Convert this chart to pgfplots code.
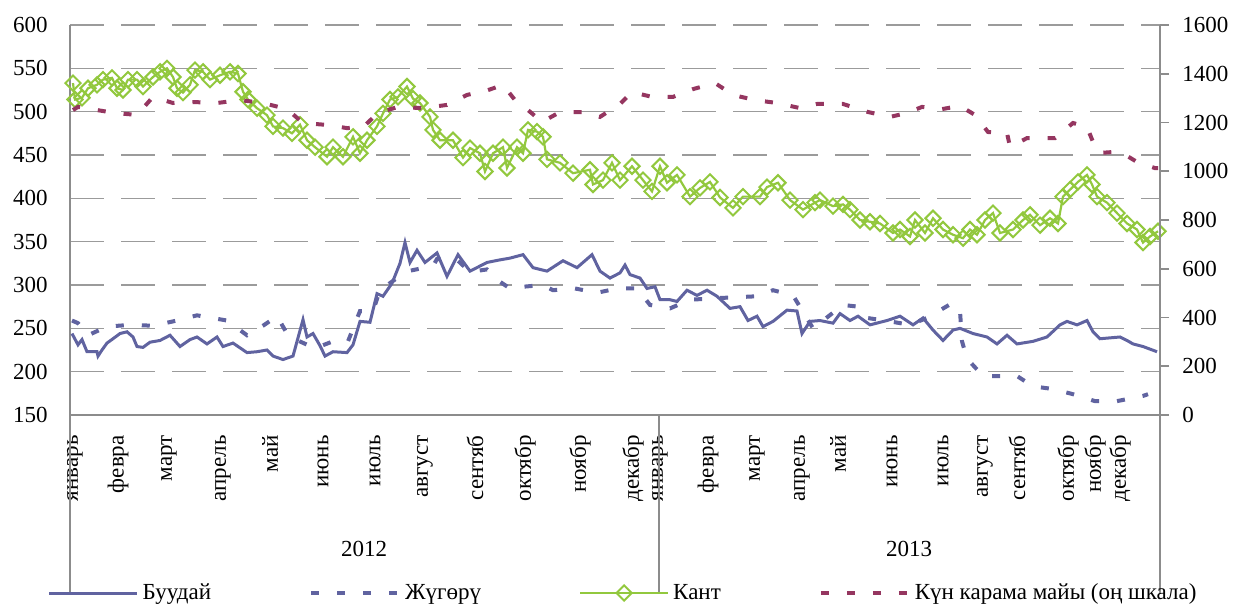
\documentclass[border=0pt]{standalone}
\usepackage{pgfplots}
\pgfplotsset{compat=1.18}
\usepackage{fontspec}
\setmainfont{Liberation Serif}
\definecolor{wheatc}{RGB}{96,99,160}
\definecolor{sugarc}{RGB}{146,200,62}
\definecolor{oilc}{RGB}{149,54,96}
\definecolor{gridc}{RGB}{155,155,155}
\definecolor{axc}{RGB}{140,140,140}
\newcommand{\chartfont}{\fontsize{11.5bp}{13.5bp}\selectfont}
\pgfplotsset{
  common/.style={
    at={(35bp,96bp)}, anchor=south west,
    scale only axis, width=545bp, height=195bp,
    xmin=70, xmax=1160,
    axis line style={axc, line width=0.8bp, -},
    tick label style={font=\chartfont},
    /pgf/number format/assume math mode=true,
    /pgf/number format/1000 sep={},
    clip=false,
    legend image code/.code={
      \draw[mark repeat=2,mark phase=2,#1] plot coordinates {(0bp,0bp) (22bp,0bp) (44bp,0bp)};
    },
  },
  wheatst/.style={wheatc, line width=1.5bp, no markers},
  cornst/.style={wheatc, line width=2bp, dash pattern=on 4bp off 9bp, no markers},
  sugarst/.style={sugarc, line width=1.1bp, mark=square, mark size=2.7bp, mark options={rotate=45, solid, fill=white, line width=1bp}},
  oilst/.style={oilc, line width=2bp, dash pattern=on 4bp off 9bp, no markers},
}
\begin{document}
\begin{tikzpicture}
\useasboundingbox (0,0) rectangle (617bp,303.5bp);
\begin{axis}[common,
  ymin=150, ymax=600, ytick={150,200,...,600},
  ymajorgrids, grid style={gridc, line width=0.8bp, dash pattern=on 17bp off 8.5bp},
  axis y line*=left, axis x line*=bottom,
  major tick length=0pt,
  yticklabel style={inner sep=0pt}, yticklabel shift=11bp,
  xtick={75,118,169,223,270,323,375,425,475,525,580,633,660,708,757,802,838,892,943,985,1017,1068,1095,1120},
  xticklabels={январь,февра,март,апрель,май,июнь,июль,август,сентяб,октябр,ноябр,декабр,январь,февра,март,апрель,май,июнь,июль,август,сентяб,октябр,ноябр,декабр},
  xticklabel style={rotate=90, anchor=east, inner sep=0pt}, xticklabel shift=10bp,
]
\addplot[wheatst] coordinates {
(72,244) (78,231) (82,237) (87,223) (97,223) (98,218) (102,225) (107,233) (113,238) (120,244) (127,246) (133,240) (137,229) (143,228) (150,234) (160,236) (170,242) (180,229) (190,237) (197,240) (207,232) (217,240) (223,229) (233,233) (247,222) (257,223) (267,225) (273,218) (283,214) (293,218) (303,260) (307,240) (313,244) (320,230) (325,218) (333,223) (347,222) (353,231) (360,258) (370,257) (377,290) (383,287) (392,302) (400,325) (405,349) (410,326) (417,340) (425,326) (437,337) (447,310) (458,335) (470,316) (487,326) (500,329) (510,331) (523,335) (533,320) (547,316) (563,328) (577,320) (592,335) (600,316) (610,308) (620,314) (625,323) (630,312) (640,308) (647,296) (655,298) (660,283) (670,283) (677,281) (687,294) (697,288) (707,294) (717,287) (730,273) (740,275) (748,259) (757,264) (763,252) (773,258) (787,271) (797,270) (802,244) (810,258) (820,259) (833,256) (840,267) (850,259) (858,264) (870,254) (887,259) (900,264) (913,254) (923,262) (933,248) (943,236) (953,248) (960,250) (973,244) (987,240) (997,232) (1007,242) (1017,232) (1033,235) (1047,240) (1060,254) (1067,258) (1077,254) (1087,259) (1093,246) (1100,238) (1120,240) (1127,236) (1133,232) (1143,229) (1157,223)
};
\addplot[cornst] coordinates {
(72,259) (78,256) (88,242) (107,252) (130,254) (153,253) (177,259) (197,265) (227,259) (247,242) (263,253) (277,264) (287,244) (290,240) (315,227) (333,235) (348,235) (360,270) (373,270) (380,294) (397,308) (408,316) (433,322) (437,330) (458,328) (470,315) (487,318) (497,306) (510,296) (523,298) (543,300) (553,294) (575,296) (597,291) (617,296) (637,296) (650,277) (670,273) (690,283) (720,285) (757,287) (773,294) (793,288) (813,250) (843,277) (858,275) (867,262) (890,258) (910,254) (927,262) (952,279) (960,270) (962,235) (967,215) (983,195) (1000,195) (1017,195) (1033,183) (1053,180) (1073,174) (1095,166) (1117,166) (1143,172) (1148,174)
};
\addplot[sugarst] coordinates {
(73,533) (75,514) (82,516) (88,527) (97,531) (103,537) (112,539) (117,527) (123,525) (128,537) (137,537) (143,529) (153,540) (160,546) (167,550) (173,540) (177,527) (183,522) (190,531) (195,548) (203,546) (210,537) (220,542) (230,546) (238,544) (243,523) (248,514) (257,504) (267,496) (273,483) (283,481) (292,475) (300,485) (307,467) (315,459) (327,448) (333,459) (343,448) (353,471) (360,452) (367,467) (377,483) (383,498) (390,514) (398,517) (407,529) (413,515) (420,510) (430,494) (433,479) (440,467) (453,467) (463,447) (470,458) (480,452) (485,431) (493,452) (503,459) (507,435) (517,459) (523,452) (528,479) (537,477) (543,471) (547,445) (560,441) (573,429) (590,433) (593,416) (603,421) (612,441) (620,421) (632,437) (643,421) (652,408) (660,437) (667,418) (677,427) (690,402) (700,412) (710,419) (720,401) (733,389) (743,402) (760,402) (767,413) (778,418) (790,398) (803,387) (815,395) (820,398) (833,391) (843,393) (850,387) (860,375) (870,373) (880,371) (893,360) (900,364) (910,356) (915,375) (925,360) (933,377) (943,364) (953,358) (963,354) (970,364) (977,358) (985,375) (993,383) (1000,360) (1013,364) (1023,375) (1030,381) (1040,369) (1050,377) (1058,371) (1063,402) (1070,410) (1078,419) (1087,427) (1092,416) (1097,402) (1107,395) (1117,383) (1127,371) (1137,364) (1143,349) (1150,356) (1158,362)
};
\draw[axc, line width=0.8bp] (axis cs:70,150) -- ([yshift=-89.5bp]axis cs:70,150);
\draw[axc, line width=0.8bp] (axis cs:659,150) -- ([yshift=-89.5bp]axis cs:659,150);
\draw[axc, line width=0.8bp] (axis cs:1160,150) -- ([yshift=-89.5bp]axis cs:1160,150);
\node[font=\chartfont] at ([yshift=-67bp]axis cs:364,150) {2012};
\node[font=\chartfont] at ([yshift=-67bp]axis cs:909,150) {2013};
\end{axis}
\begin{axis}[common,
  ymin=0, ymax=1600, ytick={0,200,...,1600},
  axis y line*=right, axis x line=none,
  xtick=\empty,
  ytick style={axc, line width=0.8bp},
  tick align=outside, major tick length=4.5bp,
  yticklabel style={inner sep=0pt}, yticklabel shift=6.5bp,
  legend columns=4,
  legend style={at={(0.5083,-0.4564)}, anchor=center, draw=none, fill=none, font=\chartfont,
    /tikz/every even column/.append style={column sep=47bp}},
  legend cell align=left,
]
\addlegendimage{wheatst}
\addlegendentry{Буудай}
\addlegendimage{cornst}
\addlegendentry{Жүгөрү}
\addlegendimage{sugarst}
\addlegendentry{Кант}
\addplot[oilst] coordinates {
(73,1251) (78,1264) (97,1251) (115,1239) (137,1231) (153,1305) (173,1280) (193,1284) (217,1280) (240,1292) (263,1280) (287,1255) (303,1198) (327,1190) (347,1177) (363,1181) (378,1239) (398,1264) (422,1259) (447,1272) (467,1313) (488,1333) (503,1354) (515,1292) (528,1251) (542,1202) (560,1243) (583,1243) (600,1223) (620,1276) (632,1325) (652,1305) (673,1305) (693,1337) (715,1362) (733,1313) (755,1292) (777,1280) (800,1259) (817,1276) (843,1276) (868,1243) (890,1223) (907,1239) (922,1264) (942,1255) (960,1268) (975,1231) (988,1161) (1007,1157) (1010,1100) (1027,1136) (1055,1136) (1073,1198) (1087,1181) (1095,1100) (1100,1075) (1113,1079) (1127,1063) (1137,1038) (1155,1013) (1158,1013)
};
\addlegendentry{Күн карама майы (оң шкала)}
\end{axis}
\end{tikzpicture}
\end{document}
